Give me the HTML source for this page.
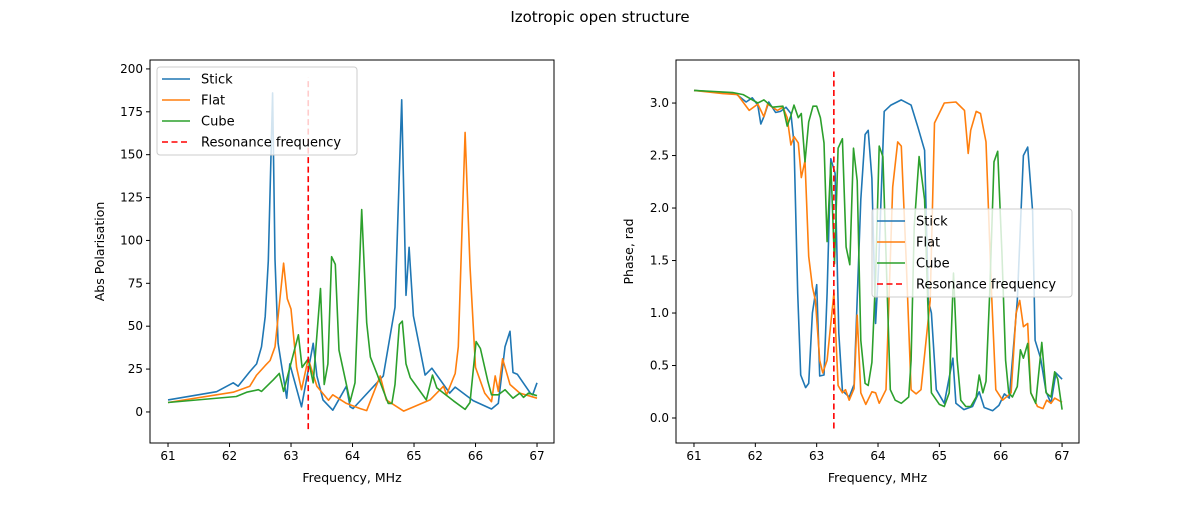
<!DOCTYPE html>
<html><head><meta charset="utf-8"><style>
body{margin:0;background:#fff;font-family:"Liberation Sans","DejaVu Sans",sans-serif}
svg text{font-family:"DejaVu Sans","Liberation Sans",sans-serif}
</style></head><body>
<svg id="c" width="1200" height="500" xmlns="http://www.w3.org/2000/svg">
<text x="600" y="22" text-anchor="middle" font-size="15">Izotropic open structure</text>
</svg>
<script>
const xTicks=[61,62,63,64,65,66,67];
const leftYTicks=[0,25,50,75,100,125,150,175,200];
const rightYTicks=[0.0,0.5,1.0,1.5,2.0,2.5,3.0];
const resonanceFreq=63.28;
const seriesNames=["Stick","Flat","Cube"];
const absStickF=[61.0,61.79,62.06,62.14,62.33,62.44,62.52,62.58,62.63,62.7,62.74,62.79,62.93,62.98,63.17,63.36,63.42,63.52,63.68,63.9,63.96,64.01,64.5,64.69,64.8,64.87,64.92,64.99,65.18,65.29,65.58,65.67,65.96,66.26,66.37,66.48,66.56,66.61,66.68,66.89,66.93,67.0];
const absStickV=[7,11.8,17,15,23.5,28,38,55.6,88,186,89,40,8,28,3,40,21,7,1,15,3,2,21,61,182,68,96,56,21.5,25.5,11,14.5,6.6,1.7,5,38,47,23,22,11,10,17];
const absFlatF=[61.0,62.06,62.33,62.44,62.58,62.66,62.74,62.88,62.94,63.0,63.09,63.17,63.28,63.42,63.61,63.68,63.9,64.12,64.23,64.45,64.55,64.83,65.26,65.48,65.53,65.67,65.72,65.83,65.91,66.0,66.15,66.26,66.32,66.37,66.44,66.56,66.72,67.0];
const absFlatV=[5.5,11.5,15,21.5,27,30,38,86.7,66,60,26,13,31,15,6.8,10,5,2,0.8,21,7,0.5,7,15,10,22.5,38,163,85,26,11,6,21,12,31,16,11,8];
const absCubeF=[61.0,62.11,62.28,62.47,62.52,62.71,62.81,62.88,63.12,63.18,63.28,63.36,63.48,63.54,63.6,63.66,63.72,63.78,63.96,64.04,64.15,64.23,64.29,64.4,64.58,64.64,64.69,64.76,64.81,64.87,64.94,65.2,65.3,65.37,65.64,65.83,65.91,66.01,66.08,66.2,66.26,66.37,66.48,66.61,66.72,66.78,66.86,67.0];
const absCubeV=[5.5,9,11.5,13,12,18.7,22.5,12,45,26,31,17,72,16,28,90.5,86,36,6,17,118,52,32,22,5,5,16,51,53,28,20,7,21.5,14,6.5,1.5,5.5,41,37,18,10,10,13,8,11,8.5,11,9.5];
const phStickF=[61.0,61.68,61.85,61.95,62.04,62.09,62.14,62.22,62.33,62.41,62.5,62.58,62.63,62.69,62.74,62.82,62.87,62.93,63.0,63.05,63.12,63.17,63.23,63.3,63.36,63.42,63.53,63.61,63.72,63.79,63.84,63.9,63.96,64.01,64.1,64.21,64.38,64.54,64.65,64.76,64.82,64.87,64.95,65.08,65.22,65.27,65.4,65.54,65.65,65.73,65.87,65.97,66.06,66.14,66.27,66.33,66.37,66.44,66.52,66.56,66.65,66.74,66.82,66.9,67.0];
const phStickV=[3.12,3.09,3.01,3.05,2.98,2.8,2.87,3.01,2.91,2.92,2.96,2.9,2.62,1.19,0.41,0.29,0.33,1.0,1.27,0.4,0.41,1.19,2.47,2.33,0.81,0.26,0.2,0.32,2.08,2.7,2.74,2.28,0.9,1.44,2.92,2.98,3.03,2.98,2.77,2.55,1.12,1.0,0.27,0.14,0.57,0.14,0.08,0.11,0.25,0.1,0.07,0.12,0.23,0.19,1.12,1.96,2.5,2.58,1.97,0.74,0.57,0.25,0.14,0.43,0.37];
const phFlatF=[61.0,61.47,61.71,61.9,62.04,62.14,62.2,62.36,62.45,62.52,62.58,62.63,62.7,62.75,62.81,62.87,62.93,62.98,63.05,63.1,63.17,63.28,63.35,63.42,63.47,63.53,63.61,63.66,63.72,63.8,63.9,63.96,64.02,64.13,64.24,64.32,64.38,64.46,64.54,64.62,64.7,64.85,64.92,65.08,65.27,65.41,65.47,65.51,65.6,65.67,65.76,65.85,65.92,66.03,66.17,66.25,66.31,66.37,66.44,66.49,66.6,66.69,66.75,66.82,66.88,67.0];
const phFlatV=[3.12,3.09,3.08,2.93,2.99,2.87,2.99,2.93,2.96,2.86,2.6,2.68,2.62,2.29,2.45,1.54,1.25,1.12,0.55,0.43,0.55,1.19,0.31,0.24,0.27,0.17,0.28,0.98,0.24,0.13,0.25,0.24,0.14,0.27,2.2,2.63,2.59,1.5,0.27,0.23,0.27,1.12,2.81,3.0,3.01,2.93,2.52,2.74,2.92,2.9,2.63,1.2,0.27,0.17,0.24,1.0,1.12,0.87,0.9,0.24,0.11,0.09,0.17,0.14,0.19,0.15];
const phCubeF=[61.0,61.63,61.8,62.04,62.14,62.28,62.45,62.52,62.58,62.63,62.7,62.75,62.81,62.87,62.94,63.0,63.06,63.12,63.17,63.23,63.29,63.35,63.42,63.48,63.54,63.6,63.66,63.72,63.79,63.84,63.9,63.96,64.02,64.08,64.2,64.28,64.38,64.5,64.54,64.59,64.67,64.76,64.81,64.87,65.0,65.08,65.16,65.23,65.29,65.35,65.43,65.51,65.6,65.65,65.71,65.76,65.82,65.89,65.95,66.02,66.08,66.13,66.19,66.27,66.32,66.37,66.44,66.49,66.57,66.67,66.74,66.82,66.88,66.93,67.0];
const phCubeV=[3.12,3.1,3.08,3.0,3.03,2.96,2.97,2.78,2.88,2.98,2.86,2.9,2.44,2.82,2.97,2.97,2.86,2.62,1.68,2.43,1.47,2.57,2.66,1.63,1.46,2.57,2.26,0.74,0.33,0.31,0.53,1.35,2.59,2.49,0.27,0.17,0.14,0.2,0.55,1.82,2.49,2.08,1.12,0.24,0.13,0.11,0.24,1.38,0.55,0.17,0.11,0.11,0.2,0.41,0.24,0.35,1.19,2.44,2.54,1.58,0.55,0.24,0.2,0.3,0.65,0.57,0.71,0.24,0.14,0.72,0.24,0.2,0.44,0.37,0.08];

const NS="http://www.w3.org/2000/svg";
const svg=document.getElementById('c');
const colors=["#1f77b4","#ff7f0e","#2ca02c"];
function mk(tag,attrs,parent){const e=document.createElementNS(NS,tag);for(const k in attrs)e.setAttribute(k,attrs[k]);(parent||svg).appendChild(e);return e;}

function panel(o){
  const g=mk('g',{});
  
  
  const sx=f=>o.x0+(f-o.fmin)/(o.fmax-o.fmin)*(o.x1-o.x0);
  const sy=v=>o.y1-(v-o.vmin)/(o.vmax-o.vmin)*(o.y1-o.y0);
  o.series.forEach((s,i)=>{
    const p=mk('polyline',{points:s.f.map((f,j)=>sx(f).toFixed(1)+','+sy(s.v[j]).toFixed(1)).join(' '),fill:'none',stroke:colors[i],'stroke-width':1.6,'stroke-linejoin':'round'},g);
    
    
  });
  const rl=mk('line',{x1:sx(resonanceFreq),x2:sx(resonanceFreq),y1:sy(o.rl[0]),y2:sy(o.rl[1]),stroke:'red','stroke-width':1.6,'stroke-dasharray':'6,3.5'},g);
  
  
  mk('rect',{x:o.x0,y:o.y0,width:o.x1-o.x0,height:o.y1-o.y0,fill:'none',stroke:'#000','stroke-width':1},g);
  xTicks.forEach(t=>{
    const x=sx(t);
    mk('line',{x1:x,x2:x,y1:o.y1,y2:o.y1+4,stroke:'#000'},g);
    const tx=mk('text',{x:x,y:o.y1+17,'text-anchor':'middle','font-size':12},g);tx.textContent=t;
    
    
  });
  o.yTicks.forEach(t=>{
    const y=sy(t);
    mk('line',{x1:o.x0-4,x2:o.x0,y1:y,y2:y,stroke:'#000'},g);
    const tx=mk('text',{x:o.x0-7,y:y+4,'text-anchor':'end','font-size':12},g);tx.textContent=o.fmt(t);
    
    
  });
  const xl=mk('text',{x:(o.x0+o.x1)/2,y:o.y1+39,'text-anchor':'middle','font-size':12.5},g);xl.textContent='Frequency, MHz';
  
  
  const yl=mk('text',{x:0,y:0,'text-anchor':'middle','font-size':12.5,transform:`translate(${o.ylx},${(o.y0+o.y1)/2}) rotate(-90)`},g);yl.textContent=o.ylabel;
  
  
  // legend
  const lg=mk('g',{},g);
  
  
  mk('rect',{x:o.lx,y:o.ly,width:200,height:88,rx:3,fill:'rgba(255,255,255,0.8)',stroke:'#ccc'},lg);
  const names=seriesNames.concat(['Resonance frequency']);
  names.forEach((n,i)=>{
    const y=o.ly+12+i*21;
    const l=mk('line',{x1:o.lx+5,x2:o.lx+33,y1:y,y2:y,stroke:i<3?colors[i]:'red','stroke-width':1.6},lg);
    if(i==3)l.setAttribute('stroke-dasharray','6,3.5');
    const t=mk('text',{x:o.lx+44,y:y+4.5,'font-size':13},lg);t.textContent=n;
    
    
  });
}
panel({name:'abs-polarisation-plot',x0:150,x1:554,y0:60,y1:443,fmin:60.707,fmax:67.276,vmin:-18.1,vmax:205.2,
  series:[{f:absStickF,v:absStickV},{f:absFlatF,v:absFlatV},{f:absCubeF,v:absCubeV}],
  rl:[-10,195],yTicks:leftYTicks,fmt:t=>t,ylabel:'Abs Polarisation',ylx:104,lx:157,ly:67});
panel({name:'phase-plot',x0:676,x1:1079,y0:60,y1:443,fmin:60.707,fmax:67.276,vmin:-0.238,vmax:3.41,
  series:[{f:phStickF,v:phStickV},{f:phFlatF,v:phFlatV},{f:phCubeF,v:phCubeV}],
  rl:[-0.1,3.3],yTicks:rightYTicks,fmt:t=>t.toFixed(1),ylabel:'Phase, rad',ylx:633,lx:872,ly:209});
</script>
</body></html>
